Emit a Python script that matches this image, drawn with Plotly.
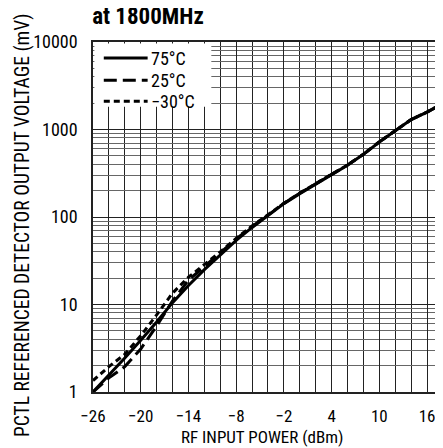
import plotly.graph_objects as go

# RF input power (dBm)
power_dbm = [-26, -24, -22, -20, -18, -16, -14, -12, -10, -8, -6, -4, -2, 0, 2, 4, 6, 8, 10, 12, 14, 16, 17.7]

# Output voltage (mV) per temperature
v_75c = [1.0, 1.55, 2.45, 3.9, 6.3, 10.5, 16.5, 25, 37, 54, 76, 104, 142, 185, 240, 305, 390, 520, 720, 970, 1300, 1580, 1920]
v_25c = [1.0, 1.45, 1.95, 3.1, 5.7, 11.0, 19.0, 27, 39, 56, 78, 105, 143, 187, 242, 307, 392, 522, 722, 972, 1300, 1582, 1922]
v_m30c = [1.35, 1.95, 2.7, 4.4, 7.6, 13.5, 20.5, 28.5, 40, 57, 79, 106, 144, 188, 243, 308, 393, 523, 723, 975, 1302, 1585, 1925]

series_names = ["75°C", "25°C", "\u221230°C"]
x_ticks = [-26, -20, -14, -8, -2, 4, 10, 16]
y_ticks = [1, 10, 100, 1000, 10000]

FONT = "Liberation Sans Narrow, Roboto Condensed, DejaVu Sans Condensed, Arial Narrow, sans-serif"

minor_y = [m * 10 ** e for e in range(0, 4) for m in range(2, 10)]

fig = go.Figure()
dashes = ["solid", "13px,6px", "6px,4px"]
for name, ys, dash in zip(series_names, [v_75c, v_25c, v_m30c], dashes):
    fig.add_trace(go.Scatter(x=power_dbm, y=ys, mode="lines", name=name,
                             line=dict(color="black", width=3, dash=dash)))

# page body has an 8px margin: figure is sized/shifted to compensate
fig.update_layout(
    width=435, height=440,
    margin=dict(l=85, r=0, t=34, b=56),
    paper_bgcolor="white", plot_bgcolor="white",
    font=dict(family=FONT, color="black", size=17),
    showlegend=False,
    title=dict(text="<b>at 1800MHz</b>", x=140 / 435, xanchor="center", y=1, yanchor="top",
               yref="container", pad=dict(t=0, b=0), font=dict(size=23, family=FONT)),
)

fig.update_xaxes(
    range=[-26, 17.75], tickvals=x_ticks, showgrid=True, gridcolor="#222", gridwidth=1.2,
    minor=dict(dtick=2, tick0=-26, showgrid=True, gridcolor="#222", gridwidth=1.2, ticks=""),
    showline=True, linecolor="#222", linewidth=1.5, mirror=True, zeroline=False,
    ticks="", ticklabelstandoff=8, tickfont=dict(size=17, family=FONT),
)
fig.update_yaxes(
    type="log", range=[0, 4], tickvals=y_ticks, ticktext=[str(v) for v in y_ticks],
    showgrid=True, gridcolor="#222", gridwidth=1.2,
    minor=dict(tickvals=minor_y, showgrid=True, gridcolor="#666", gridwidth=1, ticks=""),
    showline=True, linecolor="#222", linewidth=1.5, mirror=True, zeroline=False,
    ticks="", ticklabelstandoff=10, tickfont=dict(size=18, family=FONT),
)

# legend box (top-left, inside the plot)
fig.add_shape(type="rect", xref="paper", yref="paper", x0=0.004, x1=0.34, y0=0.815, y1=0.996,
              fillcolor="white", line=dict(width=0), layer="above")
legend_rows = [0.954, 0.891, 0.831]
for name, dash, yr in zip(series_names, dashes, legend_rows):
    fig.add_shape(type="line", xref="paper", yref="paper", x0=0.031, x1=0.157, y0=yr, y1=yr,
                  line=dict(color="black", width=3, dash=dash), layer="above")
    fig.add_annotation(text=name, xref="paper", yref="paper", x=0.16, y=yr,
                       xanchor="left", yanchor="middle", showarrow=False,
                       font=dict(size=18, family=FONT))

fig.add_annotation(text="PCTL REFERENCED DETECTOR OUTPUT VOLTAGE (mV)", textangle=-90,
                   xref="paper", yref="paper", x=-85 / 350, y=(384 - 217) / 350,
                   xanchor="left", yanchor="middle", showarrow=False,
                   font=dict(size=19.5, family=FONT))
fig.add_annotation(text="RF INPUT POWER (dBm)", xref="paper", yref="paper",
                   x=(255 - 85) / 350, y=(384 - 429) / 350, xanchor="center", yanchor="middle",
                   showarrow=False, font=dict(size=17, family=FONT))

fig.write_html("out.html")
